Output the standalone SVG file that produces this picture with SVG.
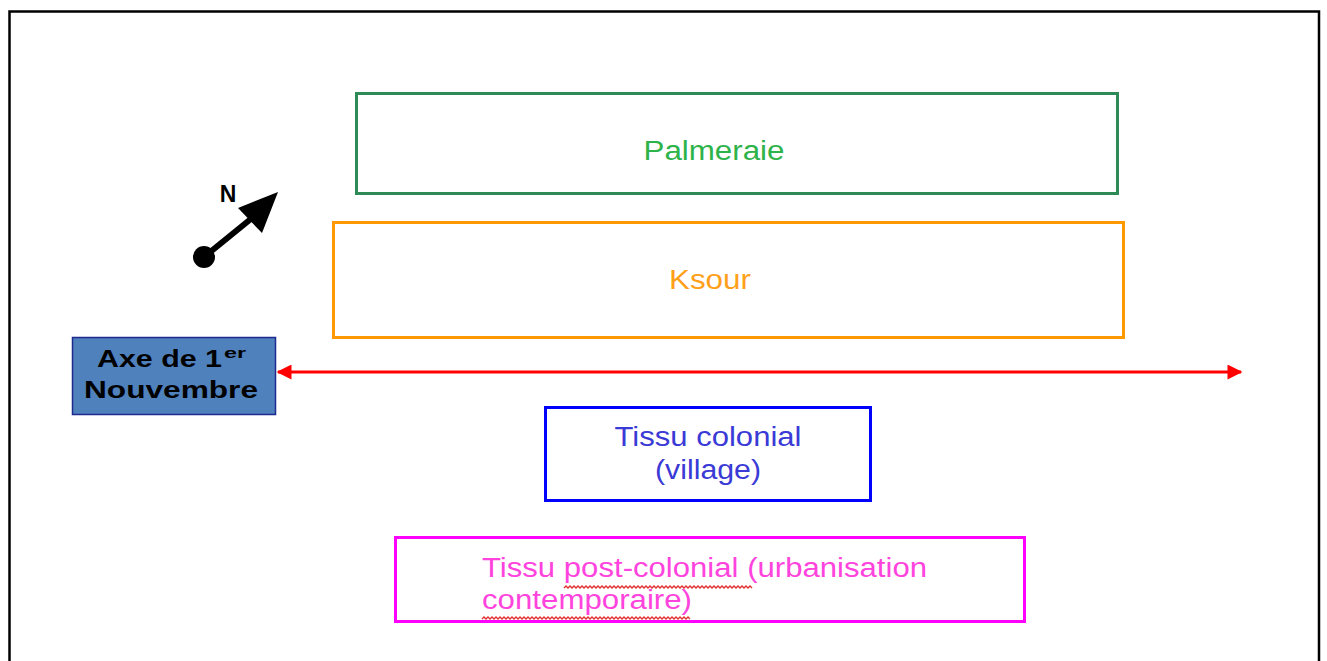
<svg xmlns="http://www.w3.org/2000/svg" width="1327" height="661" viewBox="0 0 1327 661">
<defs>
<style>
.t{font-family:"Liberation Sans",Arial,sans-serif;}
.box{fill:#ffffff;stroke-width:3;}
.wave{fill:none;stroke:#e03030;stroke-width:1.4;}
</style>
<marker id="ah" viewBox="0 0 10 10" refX="9" refY="5" markerWidth="5.5" markerHeight="5" orient="auto-start-reverse" markerUnits="strokeWidth">
<path d="M0,0 L10,5 L0,10 Z" fill="#ff0000"/>
</marker>
</defs>
<rect x="0" y="0" width="1327" height="661" fill="#ffffff"/>
<path d="M9.5,661 V11.5 H1319 V661" fill="none" stroke="#000000" stroke-width="2.5"/>

<g id="palmeraie">
<rect class="box" x="356.5" y="93.5" width="761" height="100" stroke="#2e8b57"/>
<text class="t" x="714" y="160" font-size="27" fill="#2db34a" text-anchor="middle" textLength="141" lengthAdjust="spacingAndGlyphs">Palmeraie</text>
</g>

<g id="ksour">
<rect class="box" x="333.5" y="222.5" width="790" height="115" stroke="#ff9900"/>
<text class="t" x="710" y="289" font-size="27" fill="#ff9f1a" text-anchor="middle" textLength="82" lengthAdjust="spacingAndGlyphs">Ksour</text>
</g>

<g id="axe">
<rect x="72.5" y="337.5" width="203" height="77" fill="#4f81bd" stroke="#1f2a8f" stroke-width="1.5"/>
<text class="t" x="97" y="367" font-size="23" font-weight="bold" fill="#000000" textLength="125" lengthAdjust="spacingAndGlyphs">Axe de 1</text>
<text class="t" x="224" y="358" font-size="14" font-weight="bold" fill="#000000" textLength="22" lengthAdjust="spacingAndGlyphs">er</text>
<text class="t" x="171" y="398" font-size="23" font-weight="bold" fill="#000000" text-anchor="middle" textLength="174" lengthAdjust="spacingAndGlyphs">Nouvembre</text>
</g>

<g id="north">
<text class="t" x="228" y="202" font-size="23" font-weight="bold" fill="#000000" text-anchor="middle">N</text>
<circle cx="204" cy="257" r="11" fill="#000000"/>
<line x1="204" y1="257" x2="252" y2="218" stroke="#000000" stroke-width="6"/>
<polygon points="278,192 238,208 262,233" fill="#000000"/>
</g>

<g id="colonial">
<rect class="box" x="545.5" y="407.5" width="325" height="93" stroke="#0000ff"/>
<text class="t" x="708" y="446" font-size="27" fill="#3a3ad6" text-anchor="middle" textLength="187" lengthAdjust="spacingAndGlyphs">Tissu colonial</text>
<text class="t" x="708" y="479" font-size="27" fill="#3a3ad6" text-anchor="middle" textLength="106" lengthAdjust="spacingAndGlyphs">(village)</text>
</g>

<g id="postcolonial">
<rect class="box" x="395.5" y="537.5" width="629" height="84" stroke="#ff00ff"/>
<text class="t" x="482" y="577" font-size="27" fill="#ff44dd" textLength="445" lengthAdjust="spacingAndGlyphs">Tissu post-colonial (urbanisation</text>
<text class="t" x="482" y="609" font-size="27" fill="#ff44dd" textLength="210" lengthAdjust="spacingAndGlyphs">contemporaire)</text>
<path class="wave" d="M564,588 l2,-2 l2,2 l2,-2 l2,2 l2,-2 l2,2 l2,-2 l2,2 l2,-2 l2,2 l2,-2 l2,2 l2,-2 l2,2 l2,-2 l2,2 l2,-2 l2,2 l2,-2 l2,2 l2,-2 l2,2 l2,-2 l2,2 l2,-2 l2,2 l2,-2 l2,2 l2,-2 l2,2 l2,-2 l2,2 l2,-2 l2,2 l2,-2 l2,2 l2,-2 l2,2 l2,-2 l2,2 l2,-2 l2,2 l2,-2 l2,2 l2,-2 l2,2 l2,-2 l2,2 l2,-2 l2,2 l2,-2 l2,2 l2,-2 l2,2 l2,-2 l2,2 l2,-2 l2,2 l2,-2 l2,2 l2,-2 l2,2 l2,-2 l2,2 l2,-2 l2,2 l2,-2 l2,2 l2,-2 l2,2 l2,-2 l2,2 l2,-2 l2,2 l2,-2 l2,2 l2,-2 l2,2 l2,-2 l2,2 l2,-2 l2,2 l2,-2 l2,2 l2,-2 l2,2 l2,-2 l2,2 l2,-2 l2,2 l2,-2 l2,2 l2,-2 l2,2"/>
<path class="wave" d="M482,619 l2,-2 l2,2 l2,-2 l2,2 l2,-2 l2,2 l2,-2 l2,2 l2,-2 l2,2 l2,-2 l2,2 l2,-2 l2,2 l2,-2 l2,2 l2,-2 l2,2 l2,-2 l2,2 l2,-2 l2,2 l2,-2 l2,2 l2,-2 l2,2 l2,-2 l2,2 l2,-2 l2,2 l2,-2 l2,2 l2,-2 l2,2 l2,-2 l2,2 l2,-2 l2,2 l2,-2 l2,2 l2,-2 l2,2 l2,-2 l2,2 l2,-2 l2,2 l2,-2 l2,2 l2,-2 l2,2 l2,-2 l2,2 l2,-2 l2,2 l2,-2 l2,2 l2,-2 l2,2 l2,-2 l2,2 l2,-2 l2,2 l2,-2 l2,2 l2,-2 l2,2 l2,-2 l2,2 l2,-2 l2,2 l2,-2 l2,2 l2,-2 l2,2 l2,-2 l2,2 l2,-2 l2,2 l2,-2 l2,2 l2,-2 l2,2 l2,-2 l2,2 l2,-2 l2,2 l2,-2 l2,2 l2,-2 l2,2 l2,-2 l2,2 l2,-2 l2,2 l2,-2 l2,2 l2,-2 l2,2 l2,-2 l2,2 l2,-2 l2,2 l2,-2 l2,2"/>
</g>

<g id="connectors">
<line x1="278" y1="372" x2="1241" y2="372" stroke="#ff0000" stroke-width="3" marker-start="url(#ah)" marker-end="url(#ah)"/>
</g>
</svg>
